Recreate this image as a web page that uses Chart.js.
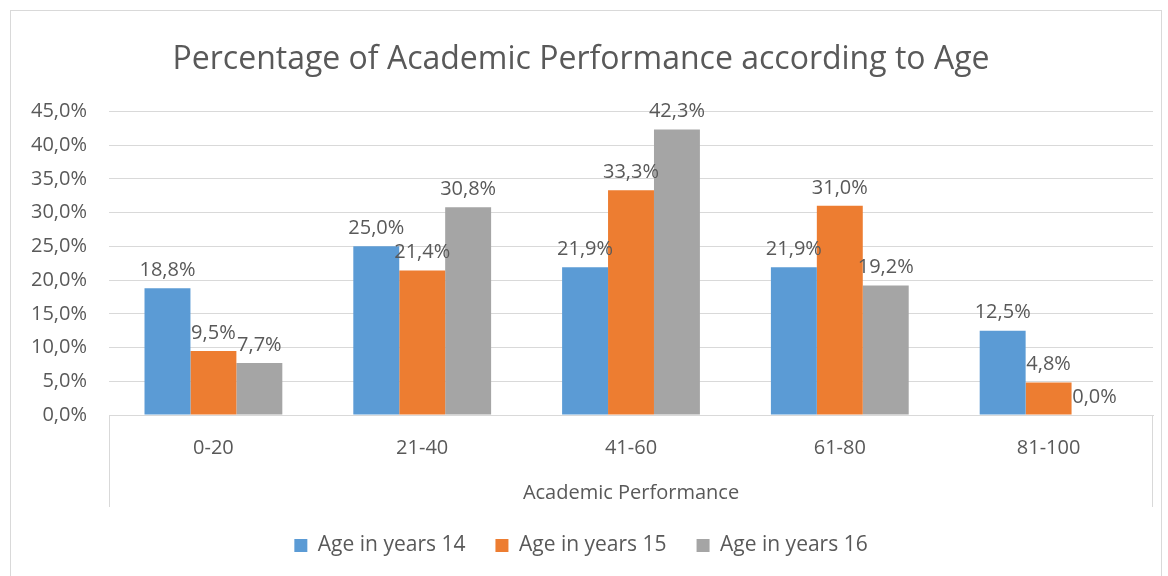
<!DOCTYPE html>
<html>
<head>
<meta charset="utf-8">
<script src="https://cdn.jsdelivr.net/npm/chart.js@4.4.0/dist/chart.umd.min.js"></script>
<style>
  body { margin: 0; background: #fff; }
  .frame { position: absolute; left: 10px; top: 10px; width: 1150px; height: 600px; border: 1px solid #d9d9d9; }
  .wrap { position: absolute; left: 0; top: 0; width: 1168px; height: 576px; }
</style>
</head>
<body>
<div class="frame"></div>
<div class="wrap"><canvas id="barGraph"></canvas></div>
<script>
var categories = ['0-20', '21-40', '41-60', '61-80', '81-100'];
var age14 = [18.8, 25.0, 21.9, 21.9, 12.5];
var age15 = [9.5, 21.4, 33.3, 31.0, 4.8];
var age16 = [7.7, 30.8, 42.3, 19.2, 0.0];
var yTicks = [0, 5, 10, 15, 20, 25, 30, 35, 40, 45];

var fontName = "'Open Sans', Lato, sans-serif";
var grey = '#595959';

function pct(v) {
  return v.toFixed(1).replace('.', ',') + '%';
}

// value labels above each bar
var barLabels = {
  id: 'barLabels',
  afterDatasetsDraw(chart) {
    var ctx = chart.ctx;
    ctx.save();
    ctx.font = '20px ' + fontName;
    ctx.fillStyle = grey;
    ctx.textAlign = 'center';
    ctx.textBaseline = 'bottom';
    chart.data.datasets.forEach((ds, i) => {
      chart.getDatasetMeta(i).data.forEach((bar, j) => {
        ctx.fillText(pct(ds.data[j]), bar.x, bar.y - 8);
      });
    });
    ctx.restore();
  }
};

// side lines of the category axis box
var axisBox = {
  id: 'axisBox',
  afterDraw(chart) {
    var a = chart.chartArea;
    var ctx = chart.ctx;
    ctx.save();
    ctx.strokeStyle = '#d9d9d9';
    ctx.lineWidth = 1;
    ctx.beginPath();
    ctx.moveTo(a.left + 0.5, a.bottom);
    ctx.lineTo(a.left + 0.5, a.bottom + 92);
    ctx.moveTo(a.right - 0.5, a.bottom);
    ctx.lineTo(a.right - 0.5, a.bottom + 92);
    ctx.stroke();
    ctx.restore();
  }
};

var chart = new Chart(document.getElementById('barGraph'), {
  type: 'bar',
  data: {
    labels: categories,
    datasets: [
      { label: 'Age in years 14', data: age14, backgroundColor: '#5b9bd5' },
      { label: 'Age in years 15', data: age15, backgroundColor: '#ed7d31' },
      { label: 'Age in years 16', data: age16, backgroundColor: '#a5a5a5' }
    ]
  },
  plugins: [barLabels, axisBox],
  options: {
    responsive: true,
    maintainAspectRatio: false,
    animation: false,
    layout: { padding: { left: 9, right: 15, top: 41, bottom: 10 } },
    datasets: { bar: { categoryPercentage: 0.66, barPercentage: 1 } },
    plugins: {
      title: {
        display: true,
        text: 'Percentage of Academic Performance according to Age',
        color: grey,
        font: { family: fontName, size: 32, weight: 'normal' },
        padding: { top: 0, bottom: 32 }
      },
      legend: {
        position: 'bottom',
        labels: {
          color: grey,
          font: { family: fontName, size: 21 },
          boxWidth: 13,
          boxHeight: 13,
          padding: 30
        }
      },
      tooltip: { enabled: false }
    },
    scales: {
      x: {
        grid: { display: false, drawTicks: false },
        border: { color: '#d9d9d9' },
        ticks: { color: grey, font: { family: fontName, size: 20 }, padding: 21 },
        title: {
          display: true,
          text: 'Academic Performance',
          color: grey,
          font: { family: fontName, size: 20 },
          padding: { top: 0, bottom: 0 }
        }
      },
      y: {
        min: 0,
        max: 45,
        afterBuildTicks(scale) {
          scale.ticks = yTicks.map(v => ({ value: v }));
        },
        grid: { color: '#d9d9d9', drawTicks: false },
        border: { display: false },
        ticks: {
          color: grey,
          font: { family: fontName, size: 20 },
          padding: 22,
          callback: v => pct(v)
        }
      }
    }
  }
});
</script>
</body>
</html>
